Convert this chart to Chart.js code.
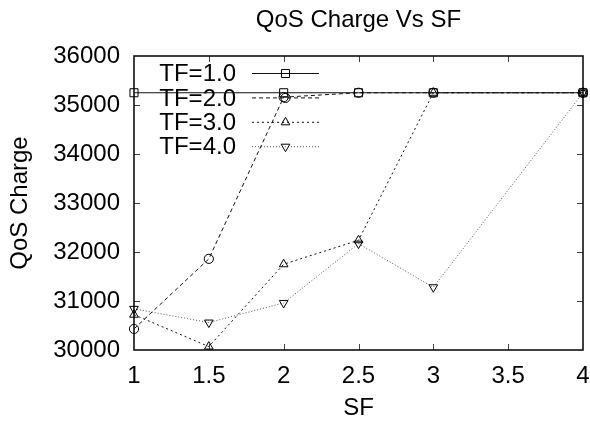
<!DOCTYPE html>
<html>
<head>
<meta charset="utf-8">
<title>QoS Charge Vs SF</title>
<script src="https://cdn.jsdelivr.net/npm/chart.js@4.4.1/dist/chart.umd.min.js"></script>
<style>
  html, body { margin: 0; padding: 0; background: #fff; }
  #wrap { width: 590px; height: 426px; }
</style>
</head>
<body>
<div id="wrap"><canvas id="qos" width="590" height="426"></canvas></div>
<script>
// SF sample points and QoS charge for each TF setting (null = no sample)
const sfValues = [1, 1.5, 2, 2.5, 3, 4];
const tf1 = [35250, null, 35250, 35250, 35250, 35250];
const tf2 = [30430, 31860, 35160, 35250, 35250, 35250];
const tf3 = [30720, 30070, 31750, 32240, 35250, 35250];
const tf4 = [30840, 30560, 30960, 32170, 31280, 35250];
const seriesNames = ['TF=1.0', 'TF=2.0', 'TF=3.0', 'TF=4.0'];
const xTicks = [1, 1.5, 2, 2.5, 3, 3.5, 4];
const yTicks = [30000, 31000, 32000, 33000, 34000, 35000, 36000];
const chartTitle = 'QoS Charge Vs SF';

const FONT = '"Liberation Sans", Arial, Helvetica, sans-serif';

function pts(vals) {
  return sfValues.map((x, i) => ({x: x, y: vals[i]}));
}

// box round the plot with small inward ticks on every side
const framePlugin = {
  id: 'frame',
  beforeDatasetsDraw(chart) {
    const {ctx, chartArea: a, scales} = chart;
    const xs = scales.x, ys = scales.y;
    ctx.save();
    ctx.strokeStyle = '#444';
    ctx.lineWidth = 1;
    ctx.beginPath();
    xs.ticks.forEach(t => {
      const px = Math.round(xs.getPixelForValue(t.value)) + 0.5;
      if (px <= a.left + 1 || px >= a.right - 1) return;
      ctx.moveTo(px, a.bottom); ctx.lineTo(px, a.bottom - 6);
      ctx.moveTo(px, a.top); ctx.lineTo(px, a.top + 6);
    });
    ys.ticks.forEach(t => {
      const py = Math.round(ys.getPixelForValue(t.value)) + 0.5;
      if (py <= a.top + 1 || py >= a.bottom - 1) return;
      ctx.moveTo(a.left, py); ctx.lineTo(a.left + 6, py);
      ctx.moveTo(a.right, py); ctx.lineTo(a.right - 6, py);
    });
    ctx.stroke();
    ctx.strokeStyle = '#111';
    ctx.lineWidth = 1.6;
    ctx.strokeRect(a.left, a.top, a.right - a.left, a.bottom - a.top);

    // title sits centred over the plot box, not the whole canvas
    ctx.fillStyle = '#000';
    ctx.font = '24px ' + FONT;
    ctx.textAlign = 'center';
    ctx.textBaseline = 'middle';
    ctx.fillText(chartTitle, (a.left + a.right) / 2, 20);
    ctx.restore();
  }
};

// key in the top-left corner: label right-aligned, then a line sample with its marker
const keyPlugin = {
  id: 'key',
  beforeDatasetsDraw(chart) {
    const {ctx, chartArea: a} = chart;
    ctx.save();
    ctx.font = '24px ' + FONT;
    ctx.textAlign = 'right';
    ctx.textBaseline = 'middle';
    chart.data.datasets.forEach((ds, i) => {
      const y = a.top + 17.5 + i * 24.4;
      ctx.fillStyle = '#000';
      ctx.fillText(ds.label, a.left + 102, y + 1);
      ctx.strokeStyle = ds.borderColor;
      ctx.lineWidth = ds.borderWidth;
      ctx.setLineDash(ds.borderDash || []);
      ctx.beginPath();
      ctx.moveTo(a.left + 118, y);
      ctx.lineTo(a.left + 185, y);
      ctx.stroke();
      ctx.setLineDash([]);
      ctx.strokeStyle = ds.pointBorderColor;
      ctx.fillStyle = 'rgba(0,0,0,0)';
      Chart.helpers.drawPoint(ctx, {
        pointStyle: ds.pointStyle,
        rotation: ds.pointRotation || 0,
        radius: ds.pointRadius,
        borderWidth: 1
      }, a.left + 151.5, y);
    });
    ctx.restore();
  }
};

const common = {
  borderWidth: 1,
  pointBorderColor: '#000',
  pointBackgroundColor: 'rgba(0,0,0,0)',
  pointBorderWidth: 1,
  tension: 0,
  fill: false,
  spanGaps: true,
  clip: false
};

new Chart(document.getElementById('qos'), {
  type: 'line',
  data: {
    datasets: [
      Object.assign({}, common, {label: seriesNames[0], data: pts(tf1), borderColor: '#111', borderDash: [], pointStyle: 'rect', pointRadius: 5.7}),
      Object.assign({}, common, {label: seriesNames[1], data: pts(tf2), borderColor: '#111', borderDash: [4, 3], pointStyle: 'circle', pointRadius: 4.6}),
      Object.assign({}, common, {label: seriesNames[2], data: pts(tf3), borderColor: '#111', borderDash: [2, 3], pointStyle: 'triangle', pointRadius: 5}),
      Object.assign({}, common, {label: seriesNames[3], data: pts(tf4), borderColor: '#555', borderDash: [1, 2], pointStyle: 'triangle', pointRotation: 180, pointRadius: 5})
    ]
  },
  options: {
    responsive: false,
    animation: false,
    devicePixelRatio: 1,
    layout: {padding: {left: 0, right: 7, top: 56, bottom: 0}},
    plugins: {
      legend: {display: false},
      tooltip: {enabled: false},
      title: {display: false}
    },
    scales: {
      x: {
        type: 'linear',
        min: 1,
        max: 4,
        afterBuildTicks: s => { s.ticks = xTicks.map(v => ({value: v})); },
        afterFit: s => { s.height = 76; s.paddingLeft = 0; s.paddingRight = 0; },
        grid: {display: false, drawTicks: false},
        border: {display: false},
        ticks: {
          color: '#000',
          padding: 12,
          maxRotation: 0,
          font: {family: FONT, size: 24},
          callback: v => String(v)
        },
        title: {
          display: true,
          text: 'SF',
          color: '#000',
          font: {family: FONT, size: 24},
          padding: {top: 0, bottom: 3.6}
        }
      },
      y: {
        type: 'linear',
        min: 30000,
        max: 36000,
        afterBuildTicks: s => { s.ticks = yTicks.map(v => ({value: v})); },
        afterFit: s => { s.width = 134; s.paddingTop = 0; s.paddingBottom = 0; },
        grid: {display: false, drawTicks: false},
        border: {display: false},
        ticks: {
          color: '#000',
          padding: 14,
          font: {family: FONT, size: 24},
          callback: v => String(v)
        },
        title: {
          display: true,
          text: 'QoS Charge',
          color: '#000',
          font: {family: FONT, size: 24},
          padding: {top: 5.6, bottom: 0}
        }
      }
    }
  },
  plugins: [framePlugin, keyPlugin]
});
</script>
</body>
</html>
